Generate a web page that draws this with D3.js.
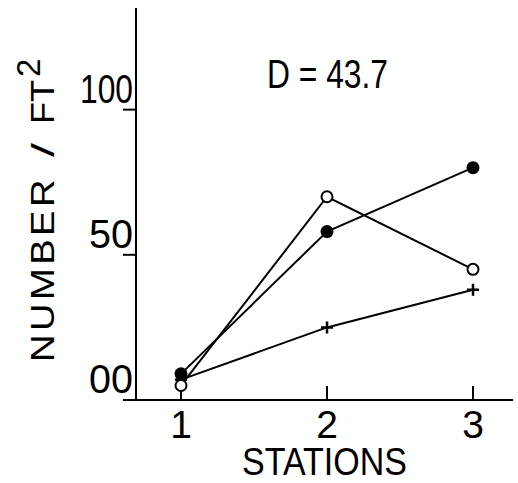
<!DOCTYPE html>
<html>
<head>
<meta charset="utf-8">
<script src="https://cdn.jsdelivr.net/npm/d3@7"></script>
<style>
  body { margin: 0; background: #fff; }
  svg text { font-family: "Liberation Sans", Arial, sans-serif; fill: #000; }
</style>
</head>
<body>
<div id="chart"></div>
<script>
// values
var stations = [1, 2, 3];
var filledDots = [9, 58, 80];
var openDots = [5, 70, 45];
var plusMarks = [7, 25, 38];
var yTicks = [0, 50, 100];
var yTickLabels = ["00", "50", "100"];
var xTickLabels = ["1", "2", "3"];
var annotation = "D = 43.7";

var width = 518, height = 483;

var svg = d3.select("#chart").append("svg")
    .attr("width", width)
    .attr("height", height);

// scales
var xScale = d3.scaleLinear().domain([1, 3]).range([181, 473]);
var yScale = d3.scaleLinear().domain([0, 135]).range([400, 8]);

var axisX = 136;       // y axis position
var axisY = yScale(0); // x axis position

// y axis line
svg.append("line")
    .attr("x1", axisX).attr("x2", axisX)
    .attr("y1", yScale(135)).attr("y2", axisY + 1)
    .attr("stroke", "#000").attr("stroke-width", 2);

// x axis line
svg.append("line")
    .attr("x1", 123).attr("x2", 513)
    .attr("y1", axisY).attr("y2", axisY)
    .attr("stroke", "#000").attr("stroke-width", 2);

// y ticks + labels (ticks stick out to the left)
yTicks.forEach(function(t, i) {
    if (t > 0) {
        svg.append("line")
            .attr("x1", axisX - 13).attr("x2", axisX)
            .attr("y1", yScale(t)).attr("y2", yScale(t))
            .attr("stroke", "#000").attr("stroke-width", 2);
    }
    svg.append("text")
        .attr("x", axisX - 3)
        .attr("y", yScale(t) - 7)
        .attr("text-anchor", "end")
        .attr("font-size", 40)
        .attr("textLength", i === 2 ? 53 : 44)
        .attr("lengthAdjust", "spacingAndGlyphs")
        .text(yTickLabels[i]);
});

// x ticks (stick up) + labels
stations.forEach(function(s, i) {
    svg.append("line")
        .attr("x1", xScale(s)).attr("x2", xScale(s))
        .attr("y1", axisY - 14).attr("y2", axisY)
        .attr("stroke", "#000").attr("stroke-width", 2);
    svg.append("text")
        .attr("x", xScale(s))
        .attr("y", 438)
        .attr("text-anchor", "middle")
        .attr("font-size", 39)
        .text(xTickLabels[i]);
});

// axis titles
svg.append("text")
    .attr("x", 242)
    .attr("y", 474.5)
    .attr("text-anchor", "start")
    .attr("font-size", 38)
    .attr("textLength", 165)
    .attr("lengthAdjust", "spacingAndGlyphs")
    .text("STATIONS");

// y title, rotated; pieces placed along the axis
var yTitle = svg.append("g").attr("transform", "translate(54,0) rotate(-90)");
yTitle.append("text")
    .attr("x", -362).attr("y", 0)
    .attr("font-size", 33)
    .attr("letter-spacing", 3)
    .attr("textLength", 186)
    .attr("lengthAdjust", "spacingAndGlyphs")
    .text("NUMBER");
yTitle.append("text")
    .attr("x", -150).attr("y", 0)
    .attr("text-anchor", "middle")
    .attr("font-size", 32)
    .attr("textLength", 14)
    .attr("lengthAdjust", "spacingAndGlyphs")
    .text("/");
yTitle.append("text")
    .attr("x", -124).attr("y", 0)
    .attr("font-size", 33)
    .attr("textLength", 44)
    .attr("lengthAdjust", "spacingAndGlyphs")
    .text("FT");
yTitle.append("text")
    .attr("x", -77).attr("y", -14)
    .attr("font-size", 33)
    .text("2");

svg.append("text")
    .attr("x", 267)
    .attr("y", 88)
    .attr("text-anchor", "start")
    .attr("font-size", 41)
    .attr("textLength", 121)
    .attr("lengthAdjust", "spacingAndGlyphs")
    .text(annotation);

// lines
var valueLine = d3.line()
    .x(function(d, i) { return xScale(stations[i]); })
    .y(function(d) { return yScale(d); });

[plusMarks, openDots, filledDots].forEach(function(series) {
    svg.append("path")
        .datum(series)
        .attr("d", valueLine)
        .attr("fill", "none")
        .attr("stroke", "#000")
        .attr("stroke-width", 2);
});

// plus markers
svg.selectAll(".plus").data(plusMarks).enter().append("path")
    .attr("class", "plus")
    .attr("d", function(d, i) {
        var x = xScale(stations[i]), y = yScale(d);
        return "M" + (x - 6) + "," + y + "H" + (x + 6) + "M" + x + "," + (y - 6) + "V" + (y + 6);
    })
    .attr("stroke", "#000")
    .attr("stroke-width", 2.5)
    .attr("fill", "none");

// open circles
svg.selectAll(".open").data(openDots).enter().append("circle")
    .attr("class", "open")
    .attr("cx", function(d, i) { return xScale(stations[i]); })
    .attr("cy", function(d) { return yScale(d); })
    .attr("r", 5.5)
    .attr("fill", "#fff")
    .attr("stroke", "#000")
    .attr("stroke-width", 2);

// filled circles
svg.selectAll(".filled").data(filledDots).enter().append("circle")
    .attr("class", "filled")
    .attr("cx", function(d, i) { return xScale(stations[i]); })
    .attr("cy", function(d) { return yScale(d); })
    .attr("r", 6.5)
    .attr("fill", "#000");
</script>
</body>
</html>
